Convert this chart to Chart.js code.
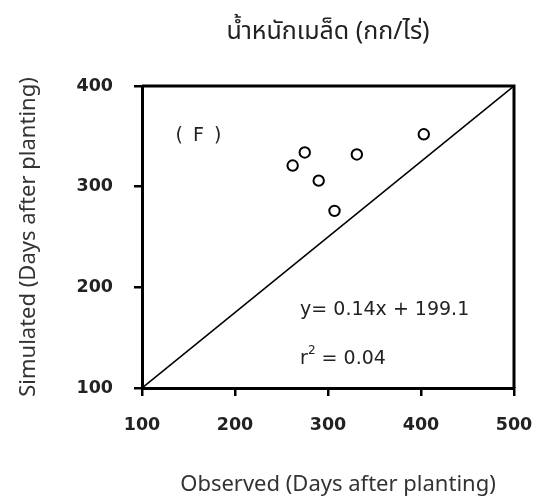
<!DOCTYPE html>
<html>
<head>
<meta charset="utf-8">
<script src="https://cdn.jsdelivr.net/npm/chart.js@4"></script>
<style>
  html, body { margin: 0; padding: 0; background: #fff; }
  #wrap { width: 547px; height: 501px; }
</style>
</head>
<body>
<div id="wrap"><canvas id="c" width="547" height="501"></canvas></div>
<script>
// Observed vs simulated values, one point per site
const observed  = [262, 275, 290, 307, 331, 403];
const simulated = [321, 334, 306, 276, 332, 352];

// Corner-to-corner reference line
const refLineX = [100, 500];
const refLineY = [100, 400];

// Axis ticks
const xTicks = [100, 200, 300, 400, 500];
const yTicks = [100, 200, 300, 400];

// Texts
const chartTitle = 'น้ำหนักเมล็ด (กก/ไร่)';
const xTitle = 'Observed (Days after planting)';
const yTitle = 'Simulated (Days after planting)';
const panelLabel = '( F )';
const equationText = 'y= 0.14x + 199.1';
const r2Base = 'r';
const r2Sup = '2';
const r2Value = ' = 0.04';

const textFont = "'DejaVu Sans', sans-serif";
const ink = '#222';

// Closed frame around the plot area, the text annotations inside it,
// and the x-axis title under the tick labels
const framePlugin = {
  id: 'frameAndNotes',
  afterDatasetsDraw(chart) {
    const { ctx, chartArea: a, scales: { x, y } } = chart;
    ctx.save();
    ctx.strokeStyle = '#000';
    ctx.lineWidth = 3;
    ctx.beginPath();
    ctx.moveTo(a.left, a.top);
    ctx.lineTo(a.right, a.top);
    ctx.lineTo(a.right, a.bottom);
    ctx.stroke();

    ctx.fillStyle = ink;
    ctx.textBaseline = 'middle';
    ctx.textAlign = 'left';
    ctx.font = "19px " + textFont;
    ctx.letterSpacing = '2px';
    ctx.fillText(panelLabel, x.getPixelForValue(136), y.getPixelForValue(350));
    ctx.letterSpacing = '0px';
    ctx.fillText(equationText, x.getPixelForValue(270), y.getPixelForValue(177));

    const rx = x.getPixelForValue(270);
    const ry = y.getPixelForValue(129);
    ctx.fillText(r2Base, rx, ry);
    const rw = ctx.measureText(r2Base).width;
    ctx.font = "12px " + textFont;
    ctx.fillText(r2Sup, rx + rw, ry - 8);
    const sw = ctx.measureText(r2Sup).width;
    ctx.font = "19px " + textFont;
    ctx.fillText(r2Value, rx + rw + sw, ry);

    ctx.fillStyle = '#333';
    ctx.textAlign = 'center';
    ctx.font = "22px 'Noto Sans', sans-serif";
    ctx.fillText(xTitle, (a.left + a.right) / 2 + 10, chart.height - 16);
    ctx.restore();
  }
};

new Chart(document.getElementById('c'), {
  type: 'scatter',
  data: {
    datasets: [
      {
        type: 'line',
        data: refLineX.map((v, i) => ({ x: v, y: refLineY[i] })),
        borderColor: '#000',
        borderWidth: 1.6,
        pointRadius: 0,
        fill: false,
        order: 2
      },
      {
        data: observed.map((v, i) => ({ x: v, y: simulated[i] })),
        pointRadius: 5.2,
        pointBorderWidth: 2,
        pointBorderColor: '#000',
        pointBackgroundColor: '#fff',
        order: 1
      }
    ]
  },
  plugins: [framePlugin],
  options: {
    responsive: false,
    animation: false,
    layout: { padding: { left: 0, right: 33, top: 0, bottom: 0 } },
    plugins: {
      legend: { display: false },
      tooltip: { enabled: false },
      title: {
        display: true,
        text: chartTitle,
        fullSize: false,
        color: ink,
        font: { family: "'Noto Sans Thai', 'Noto Sans', sans-serif", size: 25, weight: 'normal' },
        padding: { top: 19, bottom: 37 }
      }
    },
    scales: {
      x: {
        type: 'linear',
        min: 100,
        max: 500,
        afterBuildTicks(s) { s.ticks = xTicks.map(v => ({ value: v })); },
        afterFit(s) { s.height = 113; s.paddingLeft = 0; s.paddingRight = 0; },
        border: { display: true, color: '#000', width: 3 },
        grid: { drawOnChartArea: false, drawTicks: true, tickLength: 8, color: '#000', lineWidth: 2.5 },
        ticks: {
          color: ink,
          padding: 19,
          maxRotation: 0,
          font: { family: textFont, size: 17.5, weight: 'bold' }
        },
        title: { display: false }
      },
      y: {
        type: 'linear',
        min: 100,
        max: 400,
        afterBuildTicks(s) { s.ticks = yTicks.map(v => ({ value: v })); },
        afterFit(s) { s.width = 142; s.paddingTop = 0; s.paddingBottom = 0; },
        border: { display: true, color: '#000', width: 3 },
        grid: { drawOnChartArea: false, drawTicks: true, tickLength: 8, color: '#000', lineWidth: 2.5 },
        ticks: {
          color: ink,
          padding: 21,
          font: { family: textFont, size: 17.5, weight: 'bold' }
        },
        title: {
          display: true,
          text: yTitle,
          color: '#333',
          font: { family: "'Noto Sans', sans-serif", size: 22 },
          padding: { top: 16, bottom: 0 }
        }
      }
    }
  }
});
</script>
</body>
</html>
